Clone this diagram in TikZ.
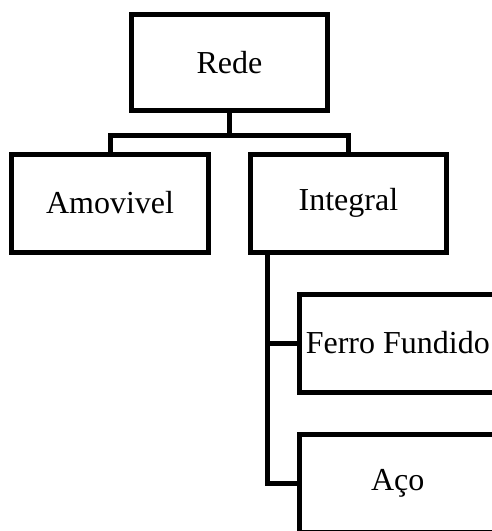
\documentclass[tikz,border=0pt]{standalone}
\usepackage{fontspec}
\setmainfont{Liberation Serif}
\usetikzlibrary{calc}
\begin{document}
\begin{tikzpicture}[x=1pt,y=-1pt,
  box/.style={draw=black,line width=5pt,rectangle,minimum width=196pt,minimum height=98pt,inner sep=0pt,align=center,font=\fontsize{32}{38}\selectfont},
  conn/.style={draw=black,line width=5pt}]
\useasboundingbox (0,0) rectangle (492,531);
\clip (0,0) rectangle (492,531);
\fill[white] (0,0) rectangle (492,531);
\node[box,minimum height=96.4pt] (rede) at (229.5,62.5) {Rede};
\node[box,minimum width=196.8pt] (amov) at (110,203) {Amovivel};
\node[box,minimum width=195.2pt] (integ) at (348.4,203) {Integral};
\node[box] (ferro) at (397.8,343) {Ferro Fundido};
\node[box] (aco) at (397.8,483) {Aço};
\coordinate (fork) at ($(rede.south)+(0,22.6)$);
\coordinate (trunk) at ($(integ.south west)+(19,0)$);
\draw[conn] (rede.south) -- (fork) -| (amov.north);
\draw[conn] (fork) -| (integ.north);
\draw[conn] (trunk) |- (ferro.west);
\draw[conn] (trunk) |- (aco.west);
\end{tikzpicture}
\end{document}
